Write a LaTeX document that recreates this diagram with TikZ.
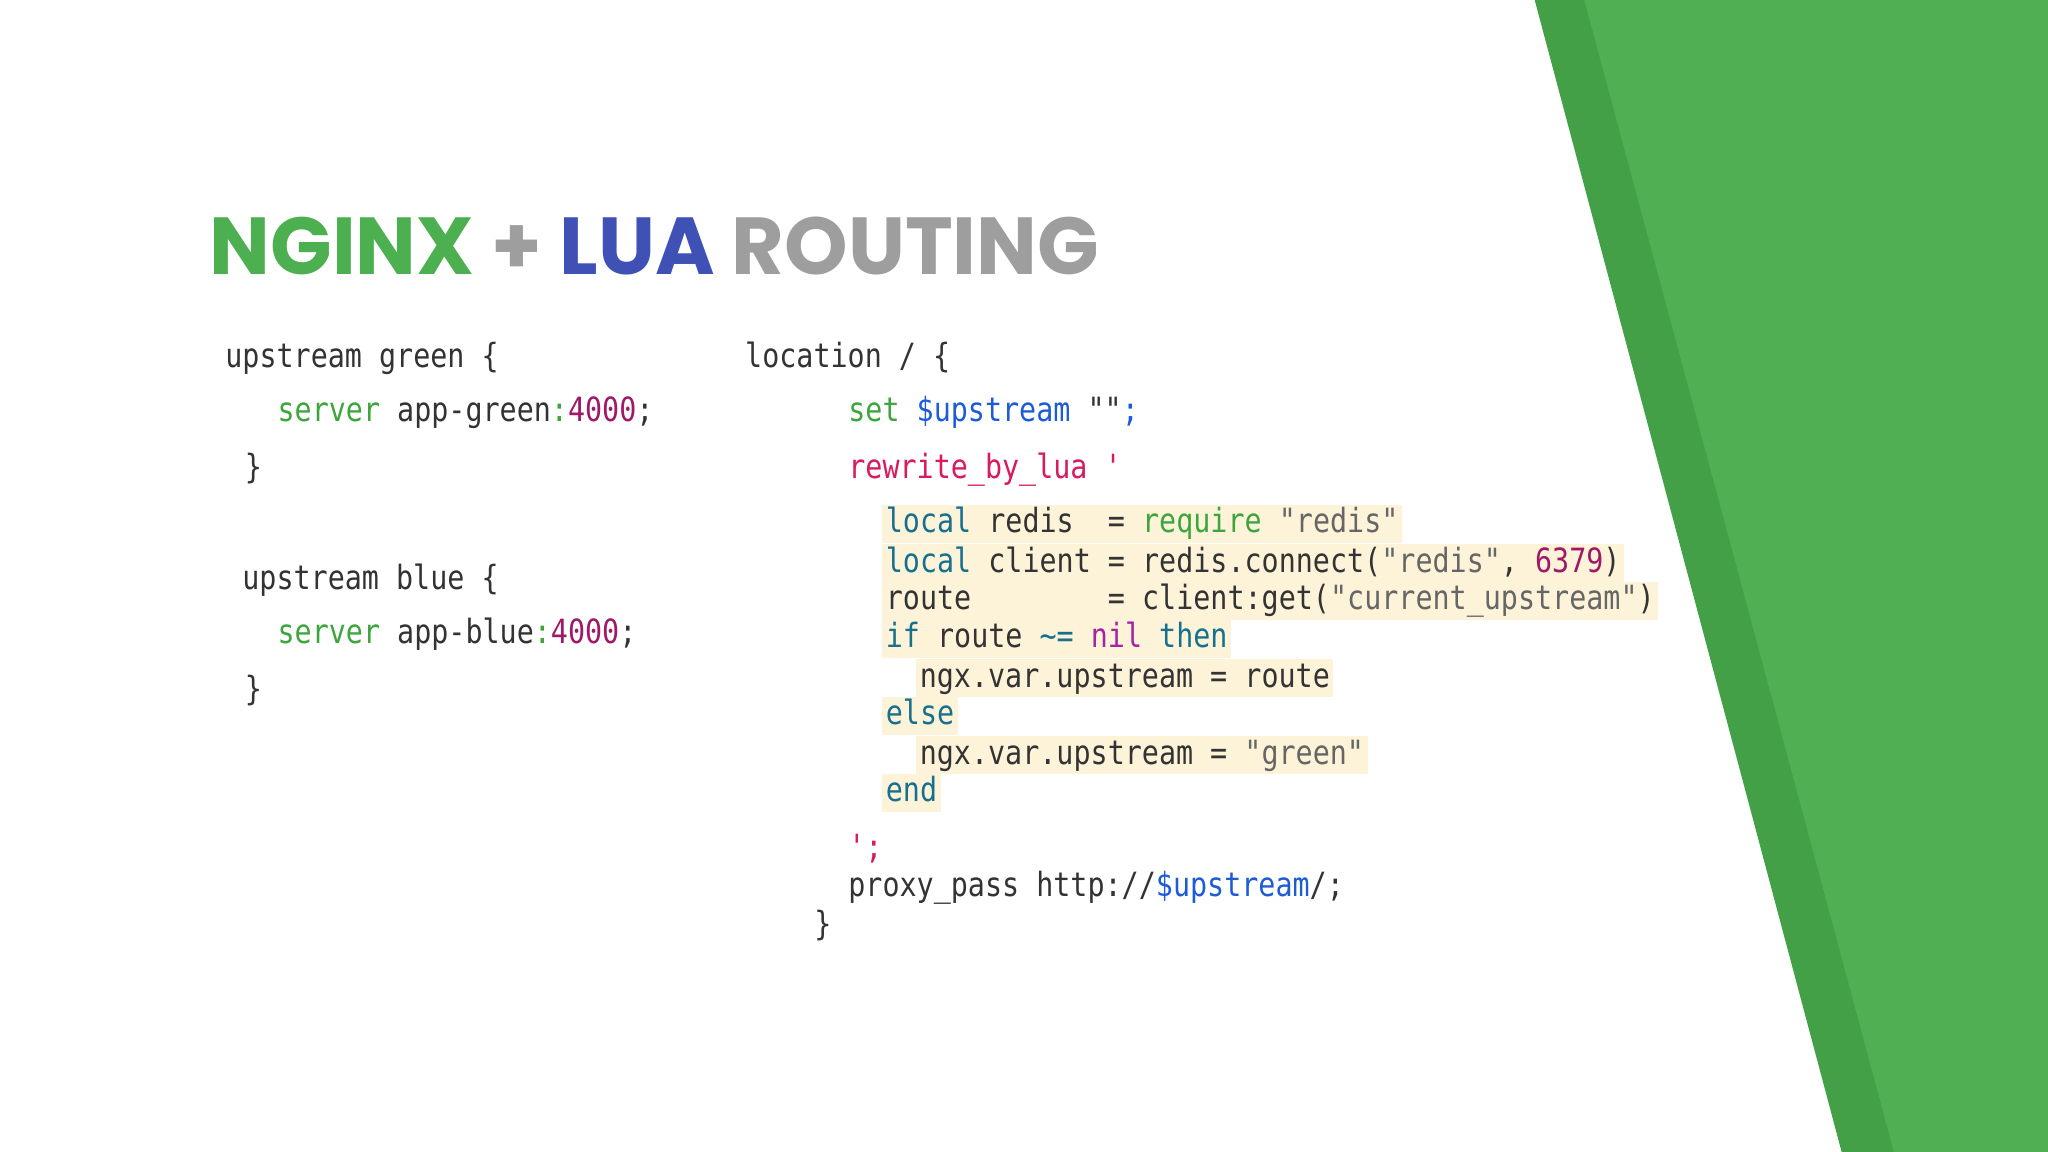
\documentclass[tikz,border=0pt]{standalone}
\usepackage{fontspec}
\newfontfamily\codefont[FakeStretch=0.85]{DejaVu Sans Mono}
\newfontfamily\titlefont{Poppins}
\definecolor{dkgreen}{HTML}{43A047}
\definecolor{ltgreen}{HTML}{4FAF52}
\definecolor{kw}{HTML}{16708E}
\definecolor{grn}{HTML}{3EA53E}
\definecolor{str}{HTML}{666666}
\definecolor{num}{HTML}{A01868}
\definecolor{nil}{HTML}{A424A4}
\definecolor{var}{HTML}{1E5BD6}
\definecolor{pink}{HTML}{D81B60}
\definecolor{txt}{HTML}{333333}
\definecolor{hl}{HTML}{FDF3D9}
\definecolor{tgreen}{HTML}{4CAF50}
\definecolor{tblue}{HTML}{3F51B5}
\definecolor{tgrey}{HTML}{9E9E9E}
\tikzset{
 code/.style={anchor=base west,inner sep=0pt,font=\codefont\fontsize{9.5pt}{11pt}\selectfont,text=txt},
 lua/.style={code,fill=hl,inner xsep=1pt,text height=8pt,text depth=2.9pt},
}
\newcommand{\K}[1]{\textcolor{kw}{#1}}
\newcommand{\G}[1]{\textcolor{grn}{#1}}
\newcommand{\Sq}[1]{\textcolor{str}{#1}}
\newcommand{\N}[1]{\textcolor{num}{#1}}
\begin{document}
\begin{tikzpicture}[x=0.013061cm,y=-0.013061cm]
\useasboundingbox (0,0) rectangle (1568,882);
\fill[white] (0,0) rectangle (1568,882);
\fill[dkgreen] (1175,0) -- (1568,0) -- (1568,882) -- (1410,882) -- cycle;
\fill[ltgreen] (1213,0) -- (1568,0) -- (1568,882) -- (1450,882) -- cycle;
\node[anchor=base west,inner sep=0pt,font=\titlefont\bfseries\fontsize{23pt}{26pt}\selectfont] (title) at (160,210)
 {\textcolor{tgreen}{NGINX} \textcolor{tgrey}{+} \textcolor{tblue}{LUA} \textcolor{tgrey}{ROUTING}};
% left
\node[code] (l1) at (172,281) {upstream green \{};
\node[code] (l2) at (212,323) {\G{server} app-green\G{:}\N{4000};};
\node[code] (l3) at (187,366) {\}};
\node[code] (l4) at (185,451) {upstream blue \{};
\node[code] (l5) at (212,493) {\G{server} app-blue\G{:}\N{4000};};
\node[code] (l6) at (187,536) {\}};
% right
\node[code] (r1) at (570,281) {location / \{};
\node[code] (r2) at (649,323) {\G{set} \textcolor{var}{\$upstream} ""\textcolor{var}{;}};
\node[code] (r3) at (649,366) {\textcolor{pink}{rewrite\_by\_lua \symbol{39}}};
\node[lua] (a1) at (675,408) {\K{local} redis\ \ = \G{require} \Sq{"redis"}};
\node[lua] (a2) at (675,438) {\K{local} client = redis.connect(\Sq{"redis"}, \N{6379})};
\node[lua] (a3) at (675,467) {route\ \ \ \ \ \ \ \ = client:get(\Sq{"current\_upstream"})};
\node[lua] (a4) at (675,496) {\K{if} route \K{\textasciitilde=} \textcolor{nil}{nil} \K{then}};
\node[lua] (a5) at (701,526) {ngx.var.upstream = route};
\node[lua] (a6) at (675,555) {\K{else}};
\node[lua] (a7) at (701,585) {ngx.var.upstream = \Sq{"green"}};
\node[lua] (a8) at (675,614) {\K{end}};
\node[code] (r4) at (649,657) {\textcolor{pink}{\symbol{39};}};
\node[code] (r5) at (649,686) {proxy\_pass http://\textcolor{var}{\$upstream}/;};
\node[code] (r6) at (623,716) {\}};
\end{tikzpicture}
\end{document}
